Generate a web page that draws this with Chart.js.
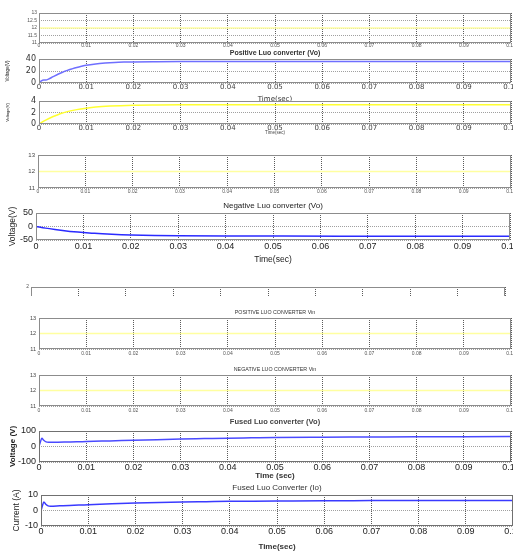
<!DOCTYPE html>
<html lang="en">
<head>
<meta charset="UTF-8">
<title>Luo converter waveforms</title>
<script src="https://cdn.jsdelivr.net/npm/chart.js@4.4.0/dist/chart.umd.min.js"></script>
<style>
    body { margin: 0; background: #fff; }
    #wrap { position: relative; width: 513px; height: 551px; overflow: hidden; }
    #wrap canvas, #wrap .clip { position: absolute; left: 0; }
</style>
</head>
<body>
<div id="wrap"></div>
<script>
    // time axis (seconds)
    var timeMin = 0, timeMax = 0.1, timeStep = 0.01;

    // 12 V input, flat
    var tFlat = [0, 0.1];
    var vIn = [12, 12];

    // Positive Luo converter output (V)
    var tPos = [0, 0.0005, 0.001, 0.0015, 0.002, 0.003, 0.004, 0.005, 0.006, 0.007, 0.008, 0.009, 0.01, 0.012, 0.014, 0.016, 0.018, 0.02, 0.025, 0.03, 0.04, 0.06, 0.08, 0.1];
    var vPos = [0, 3.5, 5, 5, 6.5, 10.5, 14.5, 18, 21, 23.5, 25.8, 27.8, 29.6, 31.8, 33.2, 34.2, 34.8, 35.2, 35.6, 35.8, 35.9, 35.9, 35.9, 35.9];

    // yellow trace under it
    var tPosY = [0, 0.001, 0.002, 0.003, 0.004, 0.005, 0.006, 0.008, 0.01, 0.012, 0.015, 0.02, 0.025, 0.03, 0.05, 0.1];
    var vPosY = [0, 0.5, 0.92, 1.3, 1.62, 1.9, 2.15, 2.5, 2.75, 2.95, 3.12, 3.27, 3.32, 3.34, 3.35, 3.35];

    // Negative Luo converter output (V)
    var tNeg = [0, 0.002, 0.004, 0.006, 0.008, 0.01, 0.012, 0.014, 0.016, 0.018, 0.02, 0.025, 0.03, 0.04, 0.05, 0.065, 0.08, 0.1];
    var vNeg = [0, -6, -11, -15.5, -19.5, -22.5, -25, -27.3, -29, -30.3, -31.3, -33, -34, -35, -35.5, -36, -36, -36];

    // Fused Luo converter output voltage (V) and current (A)
    var tFused = [0, 0.0003, 0.0006, 0.001, 0.0015, 0.002, 0.004, 0.006, 0.008, 0.01, 0.015, 0.02, 0.025, 0.03, 0.035, 0.04, 0.045, 0.05, 0.06, 0.07, 0.08, 0.09, 0.1];
    var vFused = [0, 30, 53, 40, 30, 28, 28, 29, 30, 32, 36, 40, 44, 48, 51, 54, 56, 58, 60, 61.5, 63, 63.5, 64];
    var iFused = [0, 3, 5.5, 4, 3, 2.8, 3, 3.2, 3.5, 3.7, 4.3, 4.8, 5.2, 5.5, 5.7, 5.9, 6, 6.1, 6.3, 6.4, 6.5, 6.5, 6.5];

    // titles
    var titles = ['Positive Luo converter (Vo)', 'Negative Luo converter (Vo)', 'POSITIVE LUO CONVERTER Vin',
                  'NEGATIVE LUO CONVERTER Vin', 'Fused Luo converter (Vo)', 'Fused Luo Converter (Io)'];

    var ARIAL = '"Liberation Sans", Arial, sans-serif';
    var WIDE = '"DejaVu Sans", sans-serif';

    function pts(t, v) {
        return t.map(function (x, i) { return {x: x, y: v[i]}; });
    }

    // axes box (matlab style)
    var boxPlugin = {
        id: 'box',
        afterDatasetsDraw: function (chart, args, o) {
            var a = chart.chartArea, c = chart.ctx;
            c.save();
            c.strokeStyle = o.color || '#8c8c8c';
            c.lineWidth = 1;
            c.strokeRect(a.left + 0.5, a.top + 0.5, a.right - a.left - 1, a.bottom - a.top - 1);
            c.restore();
        }
    };

    // rotated y label, no squeezing
    var sideLabel = {
        id: 'sideLabel',
        afterDraw: function (chart, args, o) {
            if (!o.text) return;
            var c = chart.ctx, a = chart.chartArea;
            c.save();
            c.translate(o.x, (a.top + a.bottom) / 2 + (o.dy || 0));
            c.rotate(-Math.PI / 2);
            c.font = o.font;
            c.fillStyle = o.color || '#222';
            c.textAlign = 'center';
            c.textBaseline = 'middle';
            c.fillText(o.text, 0, 0);
            c.restore();
        }
    };

    var panels = [
        {box: [39, 13, 511, 43], above: 6, below: 8, y: [11, 13, 0.5],
         yt: {size: 5, pad: 2, color: '#555', family: ARIAL}, xt: {size: 5, pad: 0.5, color: '#555', family: ARIAL},
         series: [[tFlat, vIn, '#ffffa0', 1.5]]},
        {box: [39, 59, 511, 83], above: 12, below: 21, y: [0, 40, 20],
         title: {text: titles[0], y: 53, size: 7, weight: 'bold', color: '#333', family: ARIAL},
         yt: {size: 8, pad: 3, color: '#333', family: WIDE}, xt: {size: 7, pad: 0.5, color: '#444', family: WIDE},
         xTitle: {text: 'Time(sec)', y: 99.5, size: 7, color: '#333', family: WIDE},
         yTitle: {text: 'Voltage(V)', x: 8, font: '4.5px ' + ARIAL},
         series: [[tPos, vPos, '#6f6fff', 1.5]]},
        {box: [39, 101, 511, 124], above: 6, below: 13, y: [0, 4, 2],
         yt: {size: 8, pad: 3, color: '#333', family: WIDE}, xt: {size: 7, pad: 0.5, color: '#444', family: WIDE},
         xTitle: {text: 'Time(sec)', y: 132.5, size: 4.5, color: '#444', family: ARIAL},
         yTitle: {text: 'Voltage(V)', x: 8, font: '4px ' + ARIAL},
         series: [[tPosY, vPosY, '#ffff30', 1.5]]},
        {box: [38, 155, 511, 188], above: 6, below: 9, y: [11, 13, 1],
         yt: {size: 6, pad: 3, color: '#444', family: ARIAL}, xt: {size: 5, pad: 1.5, color: '#555', family: ARIAL},
         series: [[tFlat, vIn, '#ffffa0', 1.5]]},
        {box: [36, 213, 510, 240], above: 13, below: 25, y: [-50, 50, 50],
         title: {text: titles[1], y: 205.5, size: 8, weight: 'normal', color: '#222', family: ARIAL},
         yt: {size: 9, pad: 3, color: '#222', family: ARIAL}, xt: {size: 9, pad: 2.5, color: '#222', family: ARIAL},
         xTitle: {text: 'Time(sec)', y: 259.5, size: 8.5, color: '#222', family: ARIAL},
         yTitle: {text: 'Voltage(V)', x: 13, font: '8.5px ' + ARIAL},
         series: [[tNeg, vNeg, '#2a2aff', 1.5]]},
        {box: [31, 287, 505, 330], above: 6, below: 8, y: [0, 2, 1], clip: [280, 16], noX: true,
         yt: {size: 5, pad: 2, color: '#555', family: ARIAL}, xt: {size: 5, pad: 1, color: '#555', family: ARIAL},
         series: []},
        {box: [39, 318, 511, 349], above: 9, below: 9, y: [11, 13, 1],
         title: {text: titles[2], y: 313, size: 5.3, weight: 'normal', color: '#333', family: ARIAL},
         yt: {size: 5.5, pad: 3, color: '#444', family: ARIAL}, xt: {size: 5, pad: 2, color: '#555', family: ARIAL},
         series: [[tFlat, vIn, '#ffffa0', 1.5]]},
        {box: [39, 375, 511, 406], above: 9, below: 9, y: [11, 13, 1],
         title: {text: titles[3], y: 369.5, size: 5.3, weight: 'normal', color: '#333', family: ARIAL},
         yt: {size: 5.5, pad: 3, color: '#444', family: ARIAL}, xt: {size: 5, pad: 2.5, color: '#555', family: ARIAL},
         series: [[tFlat, vIn, '#ffffa0', 1.5]]},
        {box: [39, 431, 511, 462], above: 13, below: 19, y: [-100, 100, 100], boxColor: '#707070',
         title: {text: titles[4], y: 422, size: 7.5, weight: 'bold', color: '#444', family: ARIAL},
         yt: {size: 9, pad: 3, color: '#222', family: ARIAL}, xt: {size: 9, pad: 1.5, color: '#222', family: ARIAL},
         xTitle: {text: 'Time (sec)', y: 476, size: 8, weight: 'bold', color: '#333', family: ARIAL},
         yTitle: {text: 'Voltage (V)', x: 13, font: 'bold 8px ' + ARIAL},
         series: [[tFused, vFused, '#4a4aff', 1.5]]},
        {box: [41, 495, 513, 526], above: 12, below: 26, y: [-10, 10, 10], boxColor: '#707070',
         title: {text: titles[5], y: 488, size: 8, weight: 'normal', color: '#333', family: ARIAL},
         yt: {size: 9, pad: 3, color: '#222', family: ARIAL}, xt: {size: 9, pad: 1.5, color: '#222', family: ARIAL},
         xTitle: {text: 'Time(sec)', y: 547, size: 8, weight: 'bold', color: '#333', family: ARIAL},
         yTitle: {text: 'Current (A)', x: 17, font: '8.5px ' + ARIAL},
         series: [[tFused, iFused, '#3a3aff', 1.5]]}
    ];

    function makePanel(p) {
        var wrap = document.getElementById('wrap');
        var l = p.box[0], t = p.box[1], r = p.box[2], b = p.box[3];
        var cv = document.createElement('canvas');
        var h = p.above + (b - t) + p.below;
        cv.width = 513;
        cv.height = h;
        if (p.clip) {
            var d = document.createElement('div');
            d.className = 'clip';
            d.style.top = p.clip[0] + 'px';
            d.style.width = '513px';
            d.style.height = p.clip[1] + 'px';
            d.style.overflow = 'hidden';
            cv.style.top = (t - p.above - p.clip[0]) + 'px';
            d.appendChild(cv);
            wrap.appendChild(d);
        } else {
            cv.style.top = (t - p.above) + 'px';
            wrap.appendChild(cv);
        }

        var padTop = p.above;
        var titleOpts = {display: false};
        if (p.title) {
            var gap = t - p.title.y - p.title.size / 2;
            padTop = p.above - p.title.size - gap;
            titleOpts = {
                display: true, text: p.title.text, fullSize: false, color: p.title.color,
                font: {family: p.title.family, size: p.title.size, weight: p.title.weight, lineHeight: 1},
                padding: {top: 0, bottom: gap}
            };
        }
        var xTitleOpts = {display: false};
        if (p.xTitle) {
            xTitleOpts = {
                display: true, text: p.xTitle.text, color: p.xTitle.color,
                font: {family: p.xTitle.family, size: p.xTitle.size, weight: p.xTitle.weight || 'normal', lineHeight: 1},
                padding: {top: 0, bottom: (b + p.below) - p.xTitle.y - p.xTitle.size / 2}
            };
        }

        var datasets = p.series.map(function (s) {
            return {
                data: pts(s[0], s[1]), borderColor: s[2], borderWidth: s[3],
                pointRadius: 0, fill: false, cubicInterpolationMode: 'monotone'
            };
        });

        new Chart(cv, {
            type: 'line',
            data: {datasets: datasets},
            options: {
                responsive: false,
                animation: false,
                layout: {padding: {top: padTop, left: 0, right: 513 - r, bottom: 0}},
                plugins: {
                    legend: {display: false},
                    tooltip: {enabled: false},
                    title: titleOpts,
                    box: {color: p.boxColor},
                    sideLabel: p.yTitle ? {text: p.yTitle.text, x: p.yTitle.x, font: p.yTitle.font, color: '#222'} : {}
                },
                scales: {
                    x: {
                        type: 'linear', min: timeMin, max: timeMax,
                        ticks: {
                            display: !p.noX, stepSize: timeStep, padding: p.xt.pad, color: p.xt.color,
                            font: {family: p.xt.family, size: p.xt.size, lineHeight: 1}, maxRotation: 0, autoSkip: false
                        },
                        grid: {color: '#5a5a5a', lineWidth: 1, drawTicks: false},
                        border: {display: false, dash: [1, 1]},
                        title: xTitleOpts,
                        afterFit: function (s) { s.height = p.below; s.paddingLeft = 0; s.paddingRight = 0; }
                    },
                    y: {
                        min: p.y[0], max: p.y[1],
                        ticks: {
                            stepSize: p.y[2], padding: p.yt.pad, color: p.yt.color, autoSkip: false,
                            font: {family: p.yt.family, size: p.yt.size, lineHeight: 1},
                            callback: function (v) { return String(v); }
                        },
                        grid: {color: '#a0a0a0', lineWidth: 1, drawTicks: false},
                        border: {display: false, dash: [1, 1]},
                        afterFit: function (s) { s.width = l; s.paddingTop = 0; s.paddingBottom = 0; }
                    }
                }
            },
            plugins: [boxPlugin, sideLabel]
        });
    }

    window.onload = function () {
        panels.forEach(makePanel);
    };
</script>
</body>
</html>
